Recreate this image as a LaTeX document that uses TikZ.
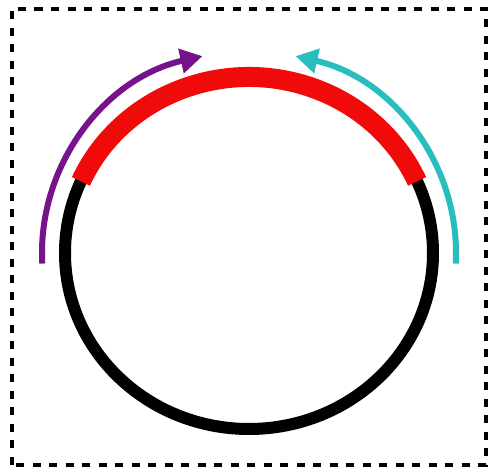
\documentclass[tikz,border=0pt]{standalone}
\usetikzlibrary{arrows.meta}
\definecolor{ringred}{RGB}{240,10,10}
\definecolor{arrpurple}{RGB}{118,18,138}
\definecolor{arrcyan}{RGB}{40,190,192}
\tikzset{
  frame/.style={draw=black,line width=3.5pt,dash pattern=on 8pt off 8.5pt},
  ring/.style={draw=black,line width=12pt},
  redarc/.style={draw=ringred,line width=20pt},
  turnarrow/.style={line width=6pt,-{Triangle[length=22pt,width=24pt]}}
}
\begin{document}
\begin{tikzpicture}[x=1pt,y=1pt]
\useasboundingbox (0,0) rectangle (488,470);
\draw[frame] (12,5) rectangle (486,461);
\coordinate (c) at (249,217);
\draw[ring] (c) ellipse [x radius=184, y radius=176];
\draw[redarc] (c) ++(156:184 and 176) arc[start angle=156, end angle=24, x radius=184, y radius=176];
\draw[turnarrow,arrpurple] (c) ++(183:207 and 202) arc[start angle=183, end angle=103, x radius=207, y radius=202];
\draw[turnarrow,arrcyan] (c) ++(-3:207 and 202) arc[start angle=-3, end angle=77, x radius=207, y radius=202];
\end{tikzpicture}
\end{document}
